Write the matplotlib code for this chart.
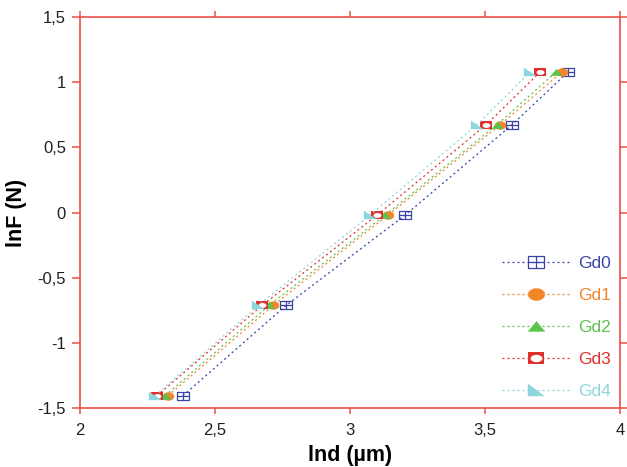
import numpy as np
import matplotlib
matplotlib.use("Agg")
import matplotlib.pyplot as plt
from matplotlib.path import Path
from matplotlib.ticker import FixedLocator
from matplotlib.legend_handler import HandlerTuple

# ln of the applied loads (N)
lnF = [-1.406, -0.713, -0.020, 0.673, 1.078]

# ln of the diagonal (um), one list per sample
gd0 = [2.381, 2.763, 3.204, 3.600, 3.807]
gd1 = [2.326, 2.715, 3.140, 3.556, 3.785]
gd2 = [2.315, 2.700, 3.130, 3.544, 3.763]
gd3 = [2.285, 2.674, 3.100, 3.504, 3.704]
gd4 = [2.278, 2.660, 3.074, 3.470, 3.667]

names = ["Gd0", "Gd1", "Gd2", "Gd3", "Gd4"]
colors = ["#3a44a8", "#f4862a", "#5cc44c", "#e0302a", "#8ed6de"]

xticks = [2, 2.5, 3, 3.5, 4]
yticks = [-1.5, -1, -0.5, 0, 0.5, 1, 1.5]


def ellipse(rx, ry, n=40):
    t = np.linspace(0, 2 * np.pi, n)
    return np.column_stack([rx * np.cos(t), ry * np.sin(t)])


# custom markers
h = 0.7
box_grid = Path(
    [(-1, -h), (1, -h), (1, h), (-1, h), (-1, -h),
     (0, -h), (0, h), (-1, 0), (1, 0)],
    [Path.MOVETO, Path.LINETO, Path.LINETO, Path.LINETO, Path.LINETO,
     Path.MOVETO, Path.LINETO, Path.MOVETO, Path.LINETO])
oval = Path(ellipse(1, 0.72), closed=True)
tri = Path([(-1, -0.6), (1, -0.6), (0, 0.6), (-1, -0.6)], closed=True)
box = Path([(-1, -h), (1, -h), (1, h), (-1, h), (-1, -h)], closed=True)
hole = Path(ellipse(1, 0.62), closed=True)
right_tri = Path([(-1, h), (-1, -h), (1, -h), (-1, h)], closed=True)

markers = [box_grid, oval, tri, box, right_tri]
series = [gd0, gd1, gd2, gd3, gd4]
edge_w = [0.9, 0.3, 0.3, 0.0, 0.3]

plt.rcParams['font.family'] = ['Liberation Sans', 'DejaVu Sans']

fig = plt.figure(figsize=(6.27, 4.67), dpi=100)
ax = fig.add_axes([0.1276, 0.1263, 0.8614, 0.8373])

handles = []
for i in range(5):
    mfc = "none" if i == 0 else colors[i]
    ln, = ax.plot(series[i], lnF, linestyle=(0, (1.6, 2.4)), linewidth=0.9,
                  color=colors[i], marker=markers[i], markersize=8,
                  markerfacecolor=mfc, markeredgecolor=colors[i],
                  markeredgewidth=edge_w[i])
    if i == 3:
        # white oval inside the red box
        wh, = ax.plot(series[i], lnF, linestyle="none", marker=hole,
                      markersize=5.7, markerfacecolor="white",
                      markeredgewidth=0)
        handles.append((ln, wh))
    else:
        handles.append(ln)

ax.set_xlim(2, 4)
ax.set_ylim(-1.5, 1.5)
ax.xaxis.set_major_locator(FixedLocator(xticks))
ax.yaxis.set_major_locator(FixedLocator(yticks))
ax.set_xticklabels([("%g" % v).replace(".", ",") for v in xticks])
ax.set_yticklabels([("%g" % v).replace(".", ",") for v in yticks])

spine_col = "#ea5048"
for s in ax.spines.values():
    s.set_color(spine_col)
    s.set_linewidth(1.2)
ax.tick_params(direction="out", width=1.1, color=spine_col,
               labelsize=12, labelcolor="#222222",
               top=True, right=True)
ax.tick_params(axis="x", length=4, pad=7)
ax.tick_params(axis="y", length=6, pad=4)

ax.set_xlabel("lnd (µm)", fontsize=15.5, fontweight="bold", labelpad=5)
ax.set_ylabel("lnF (N)", fontsize=15.5, fontweight="bold", labelpad=8)

leg = ax.legend(handles, names, loc="lower right", bbox_to_anchor=(1.0, 0.0),
                frameon=False, fontsize=12.5, handlelength=3.9,
                handletextpad=0.5, labelspacing=0.97, markerscale=1.5,
                borderaxespad=0.1,
                handler_map={tuple: HandlerTuple(ndivide=1)})
for txt, c in zip(leg.get_texts(), colors):
    txt.set_color(c)

fig.savefig("out.png", dpi=100)
